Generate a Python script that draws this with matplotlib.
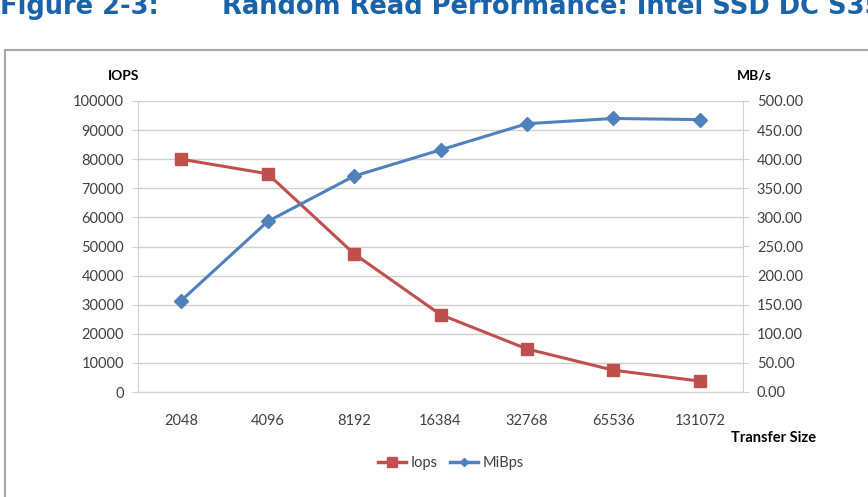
import matplotlib
matplotlib.use("Agg")
import matplotlib.pyplot as plt
from matplotlib.patches import Rectangle
from matplotlib.lines import Line2D

transfer_sizes = ["2048", "4096", "8192", "16384", "32768", "65536", "131072"]
iops = [80000, 75000, 47500, 26600, 14800, 7500, 3750]
mibps = [157, 293, 371, 416, 461, 470, 468]
iops_ticks = list(range(0, 100001, 10000))
mbps_ticks = [0, 50, 100, 150, 200, 250, 300, 350, 400, 450, 500]

RED = "#c0504d"
BLUE = "#4f81bd"
GRID = "#d0d0d0"
TXT = "#404040"
FONT = "Lato"

W, H = 868, 497
fig = plt.figure(figsize=(W / 100, H / 100), dpi=100)

# title (cut at top in the reference)
fig.text(0 / W, 1 - 14 / H, "Figure 2-3:", color="#1a62aa", fontsize=18.5,
         fontweight="bold", family="DejaVu Sans", va="baseline", ha="left")
fig.text(222 / W, 1 - 14 / H, "Random Read Performance: Intel SSD DC S3500 Series",
         color="#1a62aa", fontsize=18.5, fontweight="bold", family="DejaVu Sans",
         va="baseline", ha="left")

# chart frame
fig.patches.append(Rectangle((5 / W, -0.05), 1.2, 1 - 50 / H + 0.05,
                             transform=fig.transFigure, fill=False,
                             edgecolor="#a6a6a6", linewidth=1.5))

left, right, top, bottom = 138, 743, 101, 392
ax = fig.add_axes([left / W, 1 - bottom / H, (right - left) / W, (bottom - top) / H])
ax2 = ax.twinx()

x = list(range(len(transfer_sizes)))
ax.plot(x, iops, color=RED, linewidth=2.2, marker="s", markersize=9, zorder=3)
ax2.plot(x, mibps, color=BLUE, linewidth=2.2, marker="D", markersize=7, zorder=3)

ax.set_xlim(-0.5, len(transfer_sizes) - 0.5)
ax.set_ylim(0, 100000)
ax2.set_ylim(0, 500)
ax.set_yticks(iops_ticks)
ax.set_yticklabels([str(v) for v in iops_ticks])
ax2.set_yticks(mbps_ticks)
ax2.set_yticklabels([f"{v:.2f}" for v in mbps_ticks])
ax.set_xticks(x)
ax.set_xticklabels(transfer_sizes)

ax.grid(axis="y", color=GRID, linewidth=1)
ax.set_axisbelow(True)
for a in (ax, ax2):
    a.spines["top"].set_visible(False)
    a.spines["left"].set_color(GRID)
    a.spines["right"].set_color(GRID)
    a.spines["bottom"].set_color(GRID)
ax2.spines["left"].set_visible(False)
ax.spines["right"].set_visible(False)
ax2.spines["bottom"].set_visible(False)

ax.tick_params(axis="y", length=4, color=GRID, labelsize=10.5, labelcolor=TXT, pad=6)
ax2.tick_params(axis="y", length=4, color=GRID, labelsize=10.5, labelcolor=TXT, pad=6)
ax.tick_params(axis="x", length=0, labelsize=10.5, labelcolor=TXT, pad=16)
for lab in ax.get_yticklabels() + ax2.get_yticklabels() + ax.get_xticklabels():
    lab.set_family(FONT)

fig.text(108 / W, 1 - 76 / H, "IOPS", fontsize=10, fontweight="bold",
         family=FONT, color="black", va="center", ha="left")
fig.text(737 / W, 1 - 76 / H, "MB/s", fontsize=10, fontweight="bold",
         family=FONT, color="black", va="center", ha="left")
fig.text(816 / W, 1 - 438 / H, "Transfer Size", fontsize=10.5, fontweight="bold",
         family=FONT, color="black", va="center", ha="right")

handles = [Line2D([], [], color=RED, marker="s", linewidth=2.5, markersize=7),
           Line2D([], [], color=BLUE, marker="D", linewidth=2.5, markersize=4)]
fig.legend(handles, ["Iops", "MiBps"], loc="center", ncol=2,
           bbox_to_anchor=(451 / W, 1 - 463 / H), frameon=False,
           prop={"family": FONT, "size": 10.5}, handlelength=1.9,
           handletextpad=0.3, columnspacing=0.9, labelcolor=TXT)

fig.savefig("out.png", dpi=100)
